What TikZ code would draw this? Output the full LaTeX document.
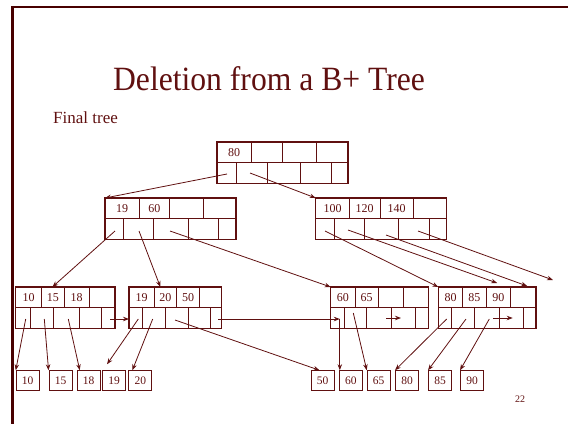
\documentclass[tikz,border=0pt]{standalone}
\usepackage{fontspec}
\setmainfont{Liberation Serif}
\usetikzlibrary{arrows.meta}
\definecolor{maroon}{RGB}{96,16,16}
\definecolor{framec}{RGB}{72,0,0}

\tikzset{
  bbox/.style={draw=maroon, line width=1.3pt, anchor=north west, inner sep=0pt, outer sep=0pt},
  div/.style={draw=maroon, line width=0.9pt},
  key/.style={text=maroon, inner sep=0pt, font=\fontsize{12}{12}\selectfont},
  dbox/.style={draw=maroon, line width=0.9pt, inner sep=0pt, minimum width=23pt, minimum height=20pt,
               text=maroon, font=\fontsize{11.5}{12}\selectfont},
  ptr/.style={draw=maroon, line width=0.8pt, -{Stealth[length=6pt,width=4.5pt]}},
  frameline/.style={draw=framec, line width=2.4pt},
}

% B+ tree node: name, left x, top y, width, height, key dividers, pointer dividers
\newcommand\bpnode[7]{%
  \node[bbox, minimum width=#4pt, minimum height=#5pt] (#1) at (#2,#3) {};
  \draw[div] (#1.west) -- (#1.east);
  \foreach \x in {#6} \draw[div] (\x,#3) -- (\x,#3+#5/2);
  \foreach \x in {#7} \draw[div] (\x,#3+#5/2) -- (\x,#3+#5);
}

\begin{document}
\begin{tikzpicture}[x=1pt, y=-1pt]
\useasboundingbox (0,0) rectangle (568,424);

% slide frame
\draw[frameline] (12.5,7) -- (568,7);
\draw[frameline] (12.5,5.8) -- (12.5,424);

% titles
\node[text=maroon, anchor=base, inner sep=0pt, font=\fontsize{34}{40}\selectfont] (title) at (269,90.5)
  {\scalebox{0.93}[1]{Deletion from a B+ Tree}};
\node[text=maroon, anchor=base west, inner sep=0pt, font=\fontsize{17}{20}\selectfont] (sub) at (53,123) {Final tree};
\node[text=maroon, anchor=base, inner sep=0pt, font=\fontsize{10}{12}\selectfont] (pagenum) at (520,402.5) {22};

% root
\bpnode{root}{217}{142}{131}{41.5}{251,282,316}{236,267,300,331}
\node[key] (root-k1) at (234,152.5) {80};

% second level
\bpnode{nA}{105}{198}{131}{41.5}{139,169.5,203.5}{123.5,153.5,188,218.5}
\node[key] (nA-k1) at (122,208.5) {19};
\node[key] (nA-k2) at (154.3,208.5) {60};

\bpnode{nB}{315.7}{198}{131}{41.5}{349.3,380,413.3}{334,364.3,398.3,429}
\node[key] (nB-k1) at (332.5,208.5) {100};
\node[key] (nB-k2) at (364.7,208.5) {120};
\node[key] (nB-k3) at (396.7,208.5) {140};

% leaves
\bpnode{lA}{15.7}{287}{99.3}{41.5}{41.7,64,89.3}{30.7,53.3,79,101}
\node[key] (lA-k1) at (28.7,297.5) {10};
\node[key] (lA-k2) at (52.9,297.5) {15};
\node[key] (lA-k3) at (76.7,297.5) {18};

\bpnode{lB}{129}{287}{92.7}{41.5}{154,176.7,199.3}{142.7,165.7,188.3,210.7}
\node[key] (lB-k1) at (141.5,297.5) {19};
\node[key] (lB-k2) at (165.4,297.5) {20};
\node[key] (lB-k3) at (188,297.5) {50};

\bpnode{lC}{330.7}{287}{97.6}{41.5}{355,378.3,403.3}{344,366.7,391.7,415}
\node[key] (lC-k1) at (342.9,297.5) {60};
\node[key] (lC-k2) at (366.7,297.5) {65};

\bpnode{lD}{438.3}{287}{97.7}{41.5}{462.7,486,510.7}{451.7,474.3,499.3,523.3}
\node[key] (lD-k1) at (450.5,297.5) {80};
\node[key] (lD-k2) at (474.4,297.5) {85};
\node[key] (lD-k3) at (498.4,297.5) {90};

% data records
\node[dbox] (d10) at (27.7,380.7) {10};
\node[dbox] (d15) at (60.5,380.7) {15};
\node[dbox] (d18) at (88.7,380.7) {18};
\node[dbox] (d19) at (114,380.7) {19};
\node[dbox] (d20) at (140.3,380.7) {20};
\node[dbox] (d50) at (322.5,380.7) {50};
\node[dbox] (d60) at (350.8,380.7) {60};
\node[dbox] (d65) at (378.7,380.7) {65};
\node[dbox] (d80) at (407,380.7) {80};
\node[dbox] (d85) at (440,380.7) {85};
\node[dbox] (d90) at (472,380.7) {90};

% pointer origins
\coordinate (root-p1) at (227,174);
\coordinate (root-p2) at (250,173);
\coordinate (nA-p1) at (115,231);
\coordinate (nA-p2) at (139,231);
\coordinate (nA-p3) at (170,231);
\coordinate (nB-p1) at (325,231);
\coordinate (nB-p2) at (348,230);
\coordinate (nB-p3) at (386,235);
\coordinate (nB-p4) at (418,231);
\coordinate (nB-end) at (553,280);
\coordinate (lA-p1) at (25.7,319);
\coordinate (lA-p2) at (44.3,319);
\coordinate (lA-p3) at (68.3,319);
\coordinate (lA-pn) at (110,319);
\coordinate (lB-p1) at (138.3,319);
\coordinate (lB-p2) at (152.7,319);
\coordinate (lB-p3) at (175,320);
\coordinate (lB-pn) at (218.3,319);
\coordinate (lC-p1) at (339.8,319);
\coordinate (lC-p2) at (353.3,313);
\coordinate (lC-a) at (386,318);
\coordinate (lC-b) at (401,318);
\coordinate (lD-p1) at (446.7,319);
\coordinate (lD-p2) at (466,319);
\coordinate (lD-p3) at (489.3,319);
\coordinate (lD-a) at (493.3,318);
\coordinate (lD-b) at (512.7,318);

% root pointers
\draw[ptr] (root-p1) -- (nA.north west);
\draw[ptr] (root-p2) -- (nB.north west);

% second level pointers
\draw[ptr] (nA-p1) -- ([xshift=-13pt]lA.north);
\draw[ptr] (nA-p2) -- ([xshift=-15pt]lB.north);
\draw[ptr] (nA-p3) -- (lC.north west);
\draw[ptr] (nB-p1) -- (lD.north west);
\draw[ptr] (nB-p2) -- ([xshift=10pt,yshift=4pt]lD.north);
\draw[ptr] (nB-p3) -- ([xshift=40pt,yshift=1pt]lD.north);
\draw[ptr] (nB-p4) -- (nB-end);

% leaf pointers to records
\draw[ptr] (lA-p1) -- (d10.north west);
\draw[ptr] (lA-p2) -- (d15.north west);
\draw[ptr] (lA-p3) -- ([xshift=3pt]d18.north west);
\draw[ptr] (lB-p1) -- ([xshift=5pt,yshift=6pt]d19.north west);
\draw[ptr] (lB-p2) -- ([xshift=4pt]d20.north west);
\draw[ptr] (lB-p3) -- ([xshift=9pt]d50.north west);
\draw[ptr] (lC-p1) -- (lC-p1 |- d60.north);
\draw[ptr] (lC-p2) -- (d65.north west);
\draw[ptr] (lD-p1) -- (d80.north west);
\draw[ptr] (lD-p2) -- (d85.north west);
\draw[ptr] (lD-p3) -- (d90.north west);

% sibling links
\draw[ptr] (lA-pn) -- (lA-pn -| lB.west);
\draw[ptr] (lB-pn) -- (lC-p1);
\draw[ptr] (lC-a) -- (lC-b);
\draw[ptr] (lD-a) -- (lD-b);
\end{tikzpicture}
\end{document}
